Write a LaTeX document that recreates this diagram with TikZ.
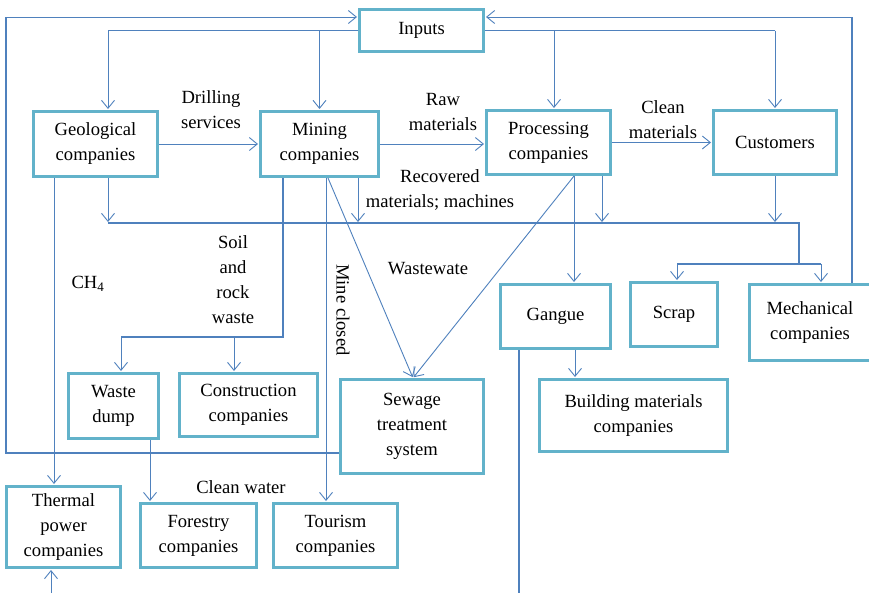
\documentclass[tikz,border=0pt]{standalone}
\usepackage{fontspec}
\setmainfont{Liberation Serif}
\usetikzlibrary{arrows.meta}
\definecolor{boxc}{HTML}{62B2CA}
\definecolor{linec}{HTML}{4F81BD}
\tikzset{
  txt/.style={font=\fontsize{18.6}{25}\selectfont, align=center, inner sep=0pt},
  box/.style={txt, draw=boxc, line width=3pt, fill=white},
  trunk/.style={draw=linec, line width=1.7pt},
  arr/.style={draw=linec, line width=0.9pt, -{Straight Barb[length=8pt,width=13pt]}, shorten >=1pt},
  thin/.style={draw=linec, line width=0.9pt}
}
\begin{document}
\begin{tikzpicture}[x=1pt,y=-1pt]
\clip (0,0) rectangle (869,592);
\fill[white] (0,0) rectangle (869,592);
% boxes
\node[box, minimum width=124pt, minimum height=42pt] (inputs) at (421.5,30.5) {Inputs};
\node[box, minimum width=124pt, minimum height=65pt] (geo) at (95.5,144) {Geological\\companies};
\node[box, minimum width=118pt, minimum height=65pt] (mining) at (319.5,144) {Mining\\companies};
\node[box, minimum width=124pt, minimum height=64pt] (proc) at (548.5,142.5) {Processing\\companies};
\node[box, minimum width=123pt, minimum height=64pt] (cust) at (775,142.5) {Customers};
\node[box, minimum width=90pt, minimum height=65pt] (waste) at (113.5,406) {Waste\\dump};
\node[box, minimum width=138pt, minimum height=63pt] (constr) at (248.5,405) {Construction\\companies};
\node[box, minimum width=143pt, minimum height=94pt] (sewage) at (412,426.5) {Sewage\\treatment\\system};
\node[box, minimum width=110pt, minimum height=64pt] (gangue) at (555.5,316.5) {Gangue};
\node[box, minimum width=188pt, minimum height=72pt] (building) at (633.5,415.5) {Building materials\\companies};
\node[box, minimum width=87pt, minimum height=64pt] (scrap) at (674,314.5) {Scrap};
\node[box, minimum width=121pt, minimum height=76pt] (mech) at (810,322.5) {Mechanical\\companies};
\node[box, minimum width=114pt, minimum height=81pt] (thermal) at (63.5,527) {Thermal\\power\\companies};
\node[box, minimum width=116pt, minimum height=64pt] (forestry) at (198.5,535.5) {Forestry\\companies};
\node[box, minimum width=124pt, minimum height=64pt] (tourism) at (335.5,535.5) {Tourism\\companies};
% labels
\node[txt] (l1) at (211,110) {Drilling\\services};
\node[txt] (l2) at (443,112) {Raw\\materials};
\node[txt] (l3) at (663,120) {Clean\\materials};
\node[txt] (l4) at (440,190) {Recovered\\materials; machines};
\node[txt] (l5) at (88,284) {CH\textsubscript{4}};
\node[txt] (l6) at (233,280) {Soil\\and\\rock\\waste};
\node[txt, rotate=-90] (l7) at (343,310) {Mine closed};
\node[txt] (l8) at (428,269) {Wastewate};
\node[txt] (l9) at (241,487) {Clean water};
% junction coordinates
\coordinate (jgeo) at (108,30.5);
\coordinate (jmin) at (319.5,30.5);
\coordinate (jproc) at (554,30.5);
\coordinate (jcust) at (775,30.5);
\coordinate (oL) at (6,17);
\coordinate (oR) at (852,17);
\coordinate (c1) at (108,223);
\coordinate (c2) at (799,223);
\coordinate (c3) at (799,264);
\coordinate (s1) at (677,264);
\coordinate (s2) at (821,264);
\coordinate (w1) at (283,337);
\coordinate (w2) at (121,337);
\coordinate (w3) at (234,337);
\coordinate (gEnd) at (519,600);
\coordinate (tStart) at (51,600);
% inputs distribution
\draw[trunk] (inputs.west) -- (jgeo);
\draw[trunk] (inputs.east) -- (jcust);
\draw[arr] (jgeo) -- (jgeo |- geo.north);
\draw[arr] (jmin) -- (mining.north);
\draw[arr] (jproc) -- (jproc |- proc.north);
\draw[arr] (jcust) -- (cust.north);
% feedback loops
\draw[trunk] (sewage.west |- 0,453) -| (oL);
\draw[arr] (oL) -- (inputs.west |- oL);
\draw[trunk] (852,0 |- mech.north) -- (oR);
\draw[arr] (oR) -- (inputs.east |- oR);
% main chain
\draw[arr] (geo.east) -- (mining.west);
\draw[arr] (mining.east) -- (mining.east -| proc.west);
\draw[arr] (proc.east) -- (cust.west);
% collection line
\draw[trunk] (c1) -- (c2) -- (c3);
\draw[trunk] (s1) -- (s2);
\draw[arr] (108,0 |- geo.south) -- (c1);
\draw[arr] (358,0 |- mining.south) -- (358,223);
\draw[arr] (602,0 |- proc.south) -- (602,223);
\draw[arr] (cust.south) -- (cust.south |- c1);
\draw[arr] (s1) -- (s1 |- scrap.north);
\draw[arr] (s2) -- (s2 |- mech.north);
% geological to thermal
\draw[arr] (54,0 |- geo.south) -- (54,0 |- thermal.north);
% soil and rock waste
\draw[trunk] (283,0 |- mining.south) -- (w1) -- (w2);
\draw[arr] (w2) -- (w2 |- waste.north);
\draw[arr] (w3) -- (w3 |- constr.north);
% mine closed
\draw[arr] (326,0 |- mining.south) -- (326,0 |- tourism.north);
% wastewater
\draw[arr] (328,0 |- mining.south) -- (413,0 |- sewage.north);
\draw[arr] (574,0 |- proc.south) -- (413,0 |- sewage.north);
% gangue
\draw[arr] (574,0 |- proc.south) -- (574,0 |- gangue.north);
\draw[arr] (575,0 |- gangue.south) -- (575,0 |- building.north);
\draw[trunk] (519,0 |- gangue.south) -- (gEnd);
% waste dump to forestry
\draw[arr] (150,0 |- waste.south) -- (150,0 |- forestry.north);
% into thermal
\draw[arr] (tStart) -- (51,0 |- thermal.south);
\end{tikzpicture}
\end{document}
